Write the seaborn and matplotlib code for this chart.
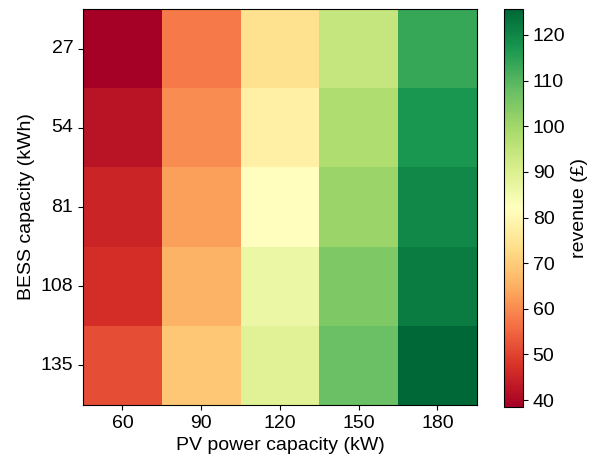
import numpy as np
import pandas as pd
import matplotlib
matplotlib.use("Agg")
import matplotlib.pyplot as plt
import seaborn as sns

plt.rcParams["font.family"] = ["Liberation Sans", "DejaVu Sans"]
plt.rcParams["font.size"] = 14

pv_capacity = [60, 90, 120, 150, 180]      # kW
bess_capacity = [27, 54, 81, 108, 135]     # kWh

# revenue (£), one list per BESS capacity, ordered by PV capacity
rev_27 = [38.5, 57.7, 74.0, 94.3, 113.5]
rev_54 = [42.0, 60.0, 77.7, 97.8, 117.0]
rev_81 = [45.0, 63.0, 82.0, 101.0, 119.6]
rev_108 = [47.0, 65.5, 86.5, 104.8, 122.2]
rev_135 = [51.5, 69.0, 89.0, 107.4, 125.7]

revenue = pd.DataFrame(
    [rev_27, rev_54, rev_81, rev_108, rev_135],
    index=bess_capacity,
    columns=pv_capacity,
)

fig = plt.figure(figsize=(5.99, 4.58), dpi=100)
ax = fig.add_axes([0.1386, 0.1157, 0.6575, 0.8646])
cax = fig.add_axes([0.8414, 0.1115, 0.0317, 0.8690])

sns.heatmap(revenue, cmap="RdYlGn", ax=ax, cbar_ax=cax,
            cbar_kws={"label": "revenue (£)"})

for side in ["top", "bottom", "left", "right"]:
    ax.spines[side].set_visible(True)
    ax.spines[side].set_color("black")
    ax.spines[side].set_linewidth(0.8)
cb = ax.collections[0].colorbar
cb.outline.set_linewidth(0.8)
cb.outline.set_edgecolor("black")
cb.set_ticks([40, 50, 60, 70, 80, 90, 100, 110, 120])
cb.ax.tick_params(labelsize=14, length=3.5, width=0.8)
cb.set_label("revenue (£)", fontsize=14)

ax.tick_params(axis="both", labelsize=14, length=3.5, width=0.8)
ax.set_yticklabels(bess_capacity, rotation=0)
ax.set_xticklabels(pv_capacity, rotation=0)
ax.set_xlabel("PV power capacity (kW)", fontsize=14)
ax.set_ylabel("BESS capacity (kWh)", fontsize=14)

fig.savefig("out.png", dpi=100)
